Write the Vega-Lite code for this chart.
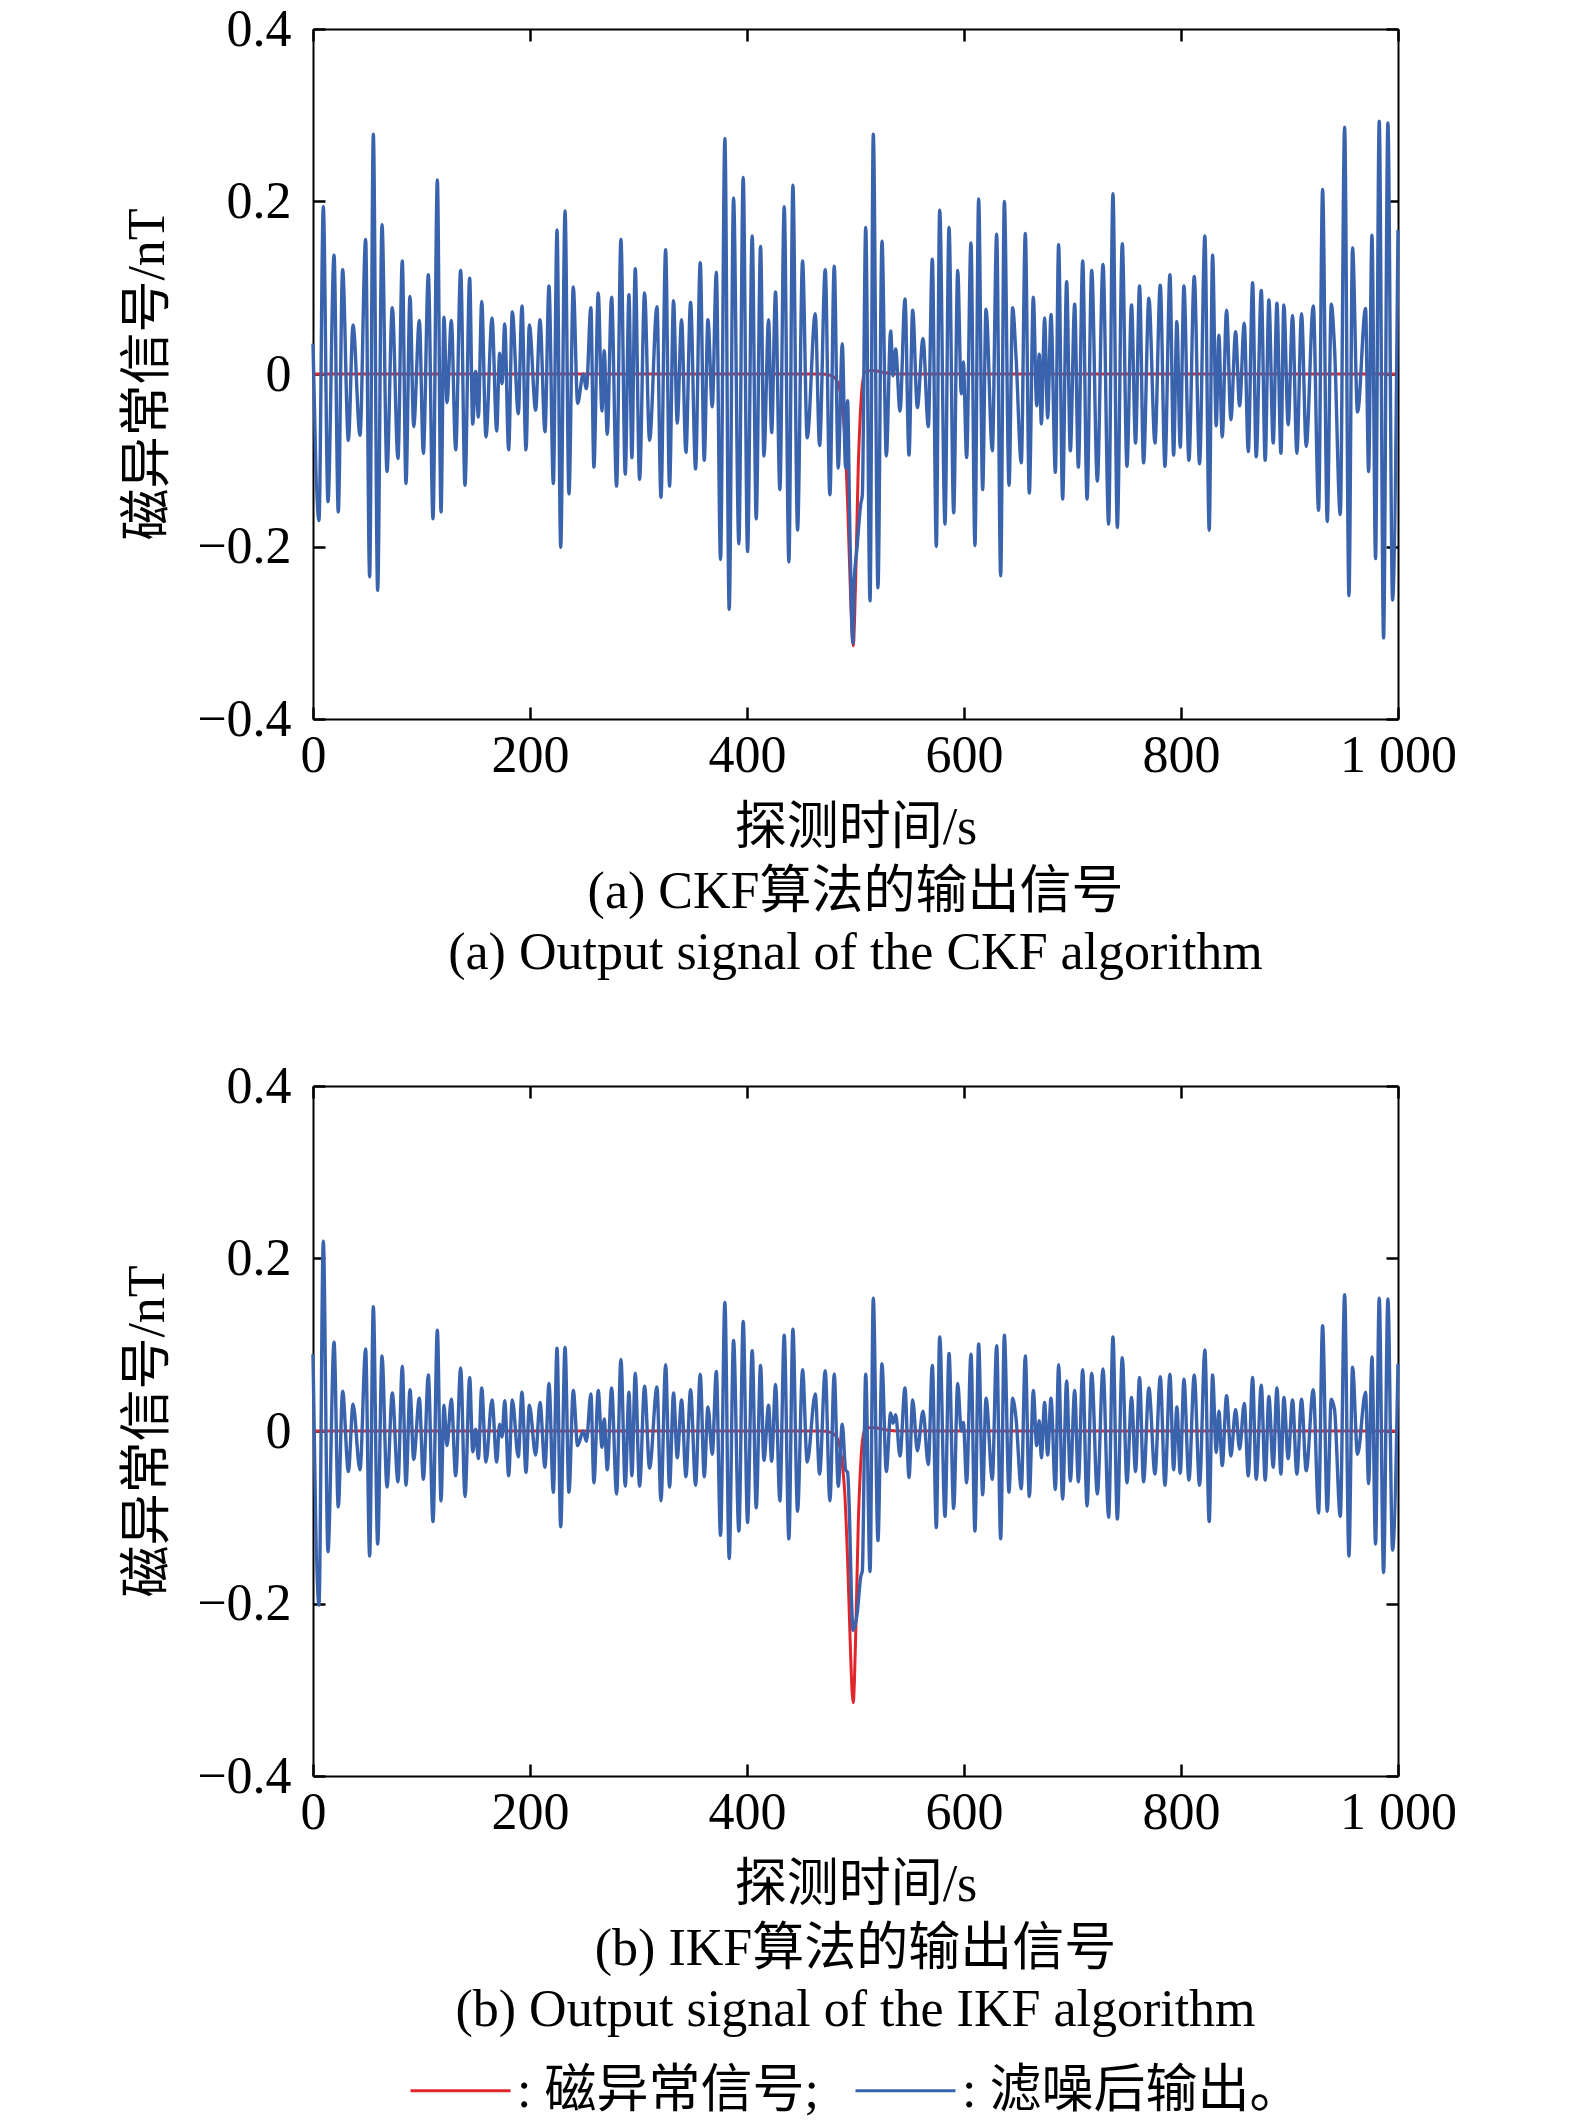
{
  "$schema": "https://vega.github.io/schema/vega-lite/v6.json",
  "background": "white",
  "padding": {"left": 121, "top": 3, "right": 10, "bottom": 5},
  "datasets": {
    "anom": [
      {"t": 0, "a": 0}, {"t": 470, "a": 0}, {"t": 478, "a": -0.002}, {"t": 483, "a": -0.008},
      {"t": 487, "a": -0.03}, {"t": 490, "a": -0.07}, {"t": 493, "a": -0.16}, {"t": 495, "a": -0.24},
      {"t": 497, "a": -0.305}, {"t": 498, "a": -0.315}, {"t": 499, "a": -0.29}, {"t": 500.5, "a": -0.22},
      {"t": 502.5, "a": -0.11}, {"t": 504.5, "a": -0.045}, {"t": 506.5, "a": -0.01}, {"t": 509, "a": 0.003},
      {"t": 515, "a": 0.004}, {"t": 530, "a": 0.001}, {"t": 545, "a": 0}, {"t": 1000, "a": 0}
    ],
    "sig": [
      {"t": 0, "c": 0.035, "k": 0.089}, {"t": 5.5, "c": -0.17, "k": -0.202}, {"t": 9.5, "c": 0.194, "k": 0.22},
      {"t": 13.8, "c": -0.148, "k": -0.14}, {"t": 19.4, "c": 0.138, "k": 0.103}, {"t": 23.3, "c": -0.16, "k": -0.088},
      {"t": 27.3, "c": 0.121, "k": 0.046}, {"t": 32.6, "c": -0.077, "k": -0.047}, {"t": 36.9, "c": 0.057, "k": 0.031},
      {"t": 43.3, "c": -0.071, "k": -0.045}, {"t": 48.5, "c": 0.156, "k": 0.095}, {"t": 52.2, "c": -0.235, "k": -0.145},
      {"t": 55.6, "c": 0.278, "k": 0.144}, {"t": 59.6, "c": -0.251, "k": -0.131}, {"t": 63.6, "c": 0.173, "k": 0.087},
      {"t": 68.2, "c": -0.113, "k": -0.065}, {"t": 73.1, "c": 0.077, "k": 0.044}, {"t": 78.3, "c": -0.098, "k": -0.059},
      {"t": 82.3, "c": 0.131, "k": 0.075}, {"t": 85.7, "c": -0.127, "k": -0.063}, {"t": 89.4, "c": 0.09, "k": 0.048},
      {"t": 92.8, "c": -0.061, "k": -0.033}, {"t": 98.0, "c": 0.062, "k": 0.038}, {"t": 101.7, "c": -0.092, "k": -0.056},
      {"t": 106.3, "c": 0.115, "k": 0.065}, {"t": 110.6, "c": -0.168, "k": -0.105}, {"t": 114.6, "c": 0.225, "k": 0.117},
      {"t": 118.0, "c": -0.16, "k": -0.081}, {"t": 120.7, "c": 0.066, "k": 0.03}, {"t": 123.5, "c": -0.033, "k": -0.017},
      {"t": 127.5, "c": 0.062, "k": 0.037}, {"t": 131.5, "c": -0.088, "k": -0.052}, {"t": 136.1, "c": 0.12, "k": 0.073},
      {"t": 140.1, "c": -0.129, "k": -0.076}, {"t": 144.4, "c": 0.111, "k": 0.062}, {"t": 147.2, "c": -0.058, "k": -0.024},
      {"t": 149.9, "c": 0.003, "k": 0.002}, {"t": 152.4, "c": -0.05, "k": -0.032}, {"t": 155.5, "c": 0.084, "k": 0.05},
      {"t": 159.4, "c": -0.073, "k": -0.036}, {"t": 165.0, "c": 0.065, "k": 0.036}, {"t": 169.3, "c": -0.066, "k": -0.036},
      {"t": 172.0, "c": 0.024, "k": 0.008}, {"t": 174.2, "c": -0.011, "k": -0.007}, {"t": 176.7, "c": 0.058, "k": 0.035},
      {"t": 180.3, "c": -0.088, "k": -0.052}, {"t": 183.7, "c": 0.072, "k": 0.036}, {"t": 189.2, "c": -0.046, "k": -0.03},
      {"t": 192.6, "c": 0.079, "k": 0.045}, {"t": 196.3, "c": -0.088, "k": -0.048}, {"t": 199.4, "c": 0.057, "k": 0.03},
      {"t": 205.2, "c": -0.042, "k": -0.028}, {"t": 209.2, "c": 0.063, "k": 0.033}, {"t": 213.8, "c": -0.067, "k": -0.042},
      {"t": 217.5, "c": 0.102, "k": 0.055}, {"t": 221.5, "c": -0.127, "k": -0.071}, {"t": 224.9, "c": 0.167, "k": 0.096},
      {"t": 228.3, "c": -0.201, "k": -0.111}, {"t": 232.3, "c": 0.189, "k": 0.097}, {"t": 235.9, "c": -0.139, "k": -0.071},
      {"t": 239.9, "c": 0.101, "k": 0.047}, {"t": 243.9, "c": -0.034, "k": -0.017}, {"t": 249.0, "c": 0.0, "k": 0.0},
      {"t": 252.0, "c": -0.017, "k": -0.012}, {"t": 256.1, "c": 0.077, "k": 0.043}, {"t": 258.9, "c": -0.108, "k": -0.06},
      {"t": 262.9, "c": 0.094, "k": 0.047}, {"t": 266.3, "c": -0.043, "k": -0.019}, {"t": 268.4, "c": 0.027, "k": 0.014},
      {"t": 271.2, "c": -0.07, "k": -0.045}, {"t": 275.2, "c": 0.089, "k": 0.05}, {"t": 279.8, "c": -0.13, "k": -0.073},
      {"t": 283.8, "c": 0.156, "k": 0.083}, {"t": 287.8, "c": -0.116, "k": -0.064}, {"t": 291.2, "c": 0.092, "k": 0.045},
      {"t": 293.9, "c": -0.097, "k": -0.052}, {"t": 297.0, "c": 0.122, "k": 0.067}, {"t": 301.0, "c": -0.122, "k": -0.064},
      {"t": 305.6, "c": 0.094, "k": 0.052}, {"t": 310.2, "c": -0.077, "k": -0.043}, {"t": 317.0, "c": 0.078, "k": 0.051},
      {"t": 320.7, "c": -0.143, "k": -0.081}, {"t": 325.0, "c": 0.144, "k": 0.077}, {"t": 328.6, "c": -0.13, "k": -0.065},
      {"t": 332.3, "c": 0.085, "k": 0.044}, {"t": 335.7, "c": -0.057, "k": -0.031}, {"t": 339.7, "c": 0.063, "k": 0.036},
      {"t": 343.7, "c": -0.091, "k": -0.053}, {"t": 348.0, "c": 0.083, "k": 0.048}, {"t": 352.6, "c": -0.11, "k": -0.063},
      {"t": 356.9, "c": 0.129, "k": 0.066}, {"t": 360.6, "c": -0.1, "k": -0.053}, {"t": 364.0, "c": 0.063, "k": 0.028},
      {"t": 368.0, "c": -0.038, "k": -0.027}, {"t": 371.7, "c": 0.118, "k": 0.069}, {"t": 375.6, "c": -0.215, "k": -0.121},
      {"t": 379.6, "c": 0.273, "k": 0.149}, {"t": 383.6, "c": -0.273, "k": -0.148}, {"t": 387.6, "c": 0.204, "k": 0.105},
      {"t": 392.5, "c": -0.197, "k": -0.116}, {"t": 396.5, "c": 0.228, "k": 0.127}, {"t": 400.5, "c": -0.206, "k": -0.106},
      {"t": 404.8, "c": 0.16, "k": 0.093}, {"t": 408.5, "c": -0.168, "k": -0.089}, {"t": 412.5, "c": 0.148, "k": 0.076},
      {"t": 415.6, "c": -0.095, "k": -0.034}, {"t": 419.9, "c": 0.063, "k": 0.03}, {"t": 422.7, "c": -0.068, "k": -0.035},
      {"t": 426.3, "c": 0.095, "k": 0.054}, {"t": 430.3, "c": -0.134, "k": -0.081}, {"t": 434.3, "c": 0.194, "k": 0.111},
      {"t": 438.6, "c": -0.218, "k": -0.125}, {"t": 442.3, "c": 0.219, "k": 0.118}, {"t": 446.6, "c": -0.181, "k": -0.093},
      {"t": 451.2, "c": 0.131, "k": 0.071}, {"t": 455.5, "c": -0.074, "k": -0.036}, {"t": 462.9, "c": 0.07, "k": 0.043},
      {"t": 466.9, "c": -0.083, "k": -0.05}, {"t": 472.1, "c": 0.121, "k": 0.07}, {"t": 476.4, "c": -0.14, "k": -0.081},
      {"t": 480.4, "c": 0.125, "k": 0.066}, {"t": 484.1, "c": -0.109, "k": -0.064}, {"t": 487.8, "c": 0.035, "k": 0.008},
      {"t": 490.9, "c": -0.109, "k": -0.045}, {"t": 492.7, "c": -0.031, "k": -0.048}, {"t": 494.5, "c": -0.16, "k": -0.1},
      {"t": 496.2, "c": -0.27, "k": -0.19}, {"t": 497.7, "c": -0.312, "k": -0.231}, {"t": 498.6, "c": -0.246, "k": -0.229},
      {"t": 501.5, "c": -0.2, "k": -0.212}, {"t": 504.8, "c": -0.151, "k": -0.169}, {"t": 506.3, "c": -0.14, "k": -0.162},
      {"t": 509.4, "c": 0.17, "k": 0.066}, {"t": 513.4, "c": -0.263, "k": -0.163}, {"t": 516.4, "c": 0.278, "k": 0.154},
      {"t": 520.7, "c": -0.248, "k": -0.127}, {"t": 524.4, "c": 0.154, "k": 0.078}, {"t": 528.4, "c": -0.095, "k": -0.047},
      {"t": 532.4, "c": 0.05, "k": 0.021}, {"t": 534.6, "c": -0.002, "k": 0.009}, {"t": 537.0, "c": 0.029, "k": 0.019},
      {"t": 541.0, "c": -0.043, "k": -0.029}, {"t": 545.6, "c": 0.087, "k": 0.05}, {"t": 549.3, "c": -0.094, "k": -0.054},
      {"t": 552.7, "c": 0.074, "k": 0.036}, {"t": 557.0, "c": -0.039, "k": -0.023}, {"t": 562.2, "c": 0.041, "k": 0.023},
      {"t": 567.1, "c": -0.061, "k": -0.039}, {"t": 570.8, "c": 0.133, "k": 0.076}, {"t": 574.5, "c": -0.2, "k": -0.112},
      {"t": 577.6, "c": 0.19, "k": 0.109}, {"t": 582.5, "c": -0.174, "k": -0.099}, {"t": 586.2, "c": 0.17, "k": 0.09},
      {"t": 590.5, "c": -0.161, "k": -0.09}, {"t": 594.2, "c": 0.12, "k": 0.055}, {"t": 597.5, "c": -0.023, "k": 0.0},
      {"t": 599.4, "c": 0.014, "k": 0.01}, {"t": 602.4, "c": -0.097, "k": -0.06}, {"t": 606.4, "c": 0.152, "k": 0.089},
      {"t": 610.1, "c": -0.199, "k": -0.116}, {"t": 613.5, "c": 0.203, "k": 0.101}, {"t": 617.2, "c": -0.134, "k": -0.074},
      {"t": 620.3, "c": 0.075, "k": 0.038}, {"t": 626.1, "c": -0.089, "k": -0.056}, {"t": 630.1, "c": 0.162, "k": 0.099},
      {"t": 633.8, "c": -0.234, "k": -0.125}, {"t": 637.2, "c": 0.2, "k": 0.111}, {"t": 641.5, "c": -0.129, "k": -0.071},
      {"t": 644.8, "c": 0.077, "k": 0.038}, {"t": 648.0, "c": 0.019, "k": 0.014}, {"t": 652.8, "c": -0.103, "k": -0.067},
      {"t": 656.5, "c": 0.163, "k": 0.087}, {"t": 660.2, "c": -0.138, "k": -0.076}, {"t": 663.9, "c": 0.089, "k": 0.047},
      {"t": 667.0, "c": -0.037, "k": -0.017}, {"t": 669.4, "c": 0.023, "k": 0.012}, {"t": 671.3, "c": -0.058, "k": -0.031},
      {"t": 674.3, "c": 0.065, "k": 0.033}, {"t": 677.1, "c": -0.051, "k": -0.028}, {"t": 680.2, "c": 0.069, "k": 0.038},
      {"t": 684.2, "c": -0.114, "k": -0.068}, {"t": 687.2, "c": 0.15, "k": 0.077}, {"t": 690.9, "c": -0.145, "k": -0.079},
      {"t": 694.6, "c": 0.107, "k": 0.058}, {"t": 698.0, "c": -0.089, "k": -0.058}, {"t": 702.0, "c": 0.081, "k": 0.047},
      {"t": 705.4, "c": -0.108, "k": -0.059}, {"t": 709.4, "c": 0.131, "k": 0.071}, {"t": 713.4, "c": -0.145, "k": -0.087},
      {"t": 717.7, "c": 0.12, "k": 0.067}, {"t": 722.9, "c": -0.124, "k": -0.073}, {"t": 728.1, "c": 0.127, "k": 0.072},
      {"t": 733.3, "c": -0.174, "k": -0.1}, {"t": 737.3, "c": 0.209, "k": 0.109}, {"t": 741.3, "c": -0.178, "k": -0.102},
      {"t": 745.9, "c": 0.151, "k": 0.085}, {"t": 750.2, "c": -0.107, "k": -0.06}, {"t": 754.4, "c": 0.08, "k": 0.039},
      {"t": 758.1, "c": -0.08, "k": -0.047}, {"t": 761.8, "c": 0.102, "k": 0.062}, {"t": 765.5, "c": -0.103, "k": -0.059},
      {"t": 770.4, "c": 0.088, "k": 0.05}, {"t": 776.0, "c": -0.08, "k": -0.05}, {"t": 780.9, "c": 0.103, "k": 0.063},
      {"t": 785.2, "c": -0.107, "k": -0.063}, {"t": 789.8, "c": 0.115, "k": 0.066}, {"t": 793.2, "c": -0.094, "k": -0.045},
      {"t": 796.2, "c": 0.061, "k": 0.028}, {"t": 799.3, "c": -0.085, "k": -0.049}, {"t": 802.7, "c": 0.102, "k": 0.06},
      {"t": 807.3, "c": -0.1, "k": -0.057}, {"t": 812.2, "c": 0.113, "k": 0.065}, {"t": 817.1, "c": -0.104, "k": -0.063},
      {"t": 822.0, "c": 0.16, "k": 0.094}, {"t": 826.0, "c": -0.181, "k": -0.105}, {"t": 829.1, "c": 0.138, "k": 0.065},
      {"t": 832.5, "c": -0.06, "k": -0.025}, {"t": 834.9, "c": 0.045, "k": 0.023}, {"t": 838.0, "c": -0.073, "k": -0.04},
      {"t": 842.0, "c": 0.074, "k": 0.041}, {"t": 846.0, "c": -0.053, "k": -0.029}, {"t": 850.3, "c": 0.049, "k": 0.025},
      {"t": 854.0, "c": -0.037, "k": -0.021}, {"t": 858.3, "c": 0.059, "k": 0.032}, {"t": 862.0, "c": -0.09, "k": -0.052},
      {"t": 866.0, "c": 0.106, "k": 0.062}, {"t": 869.3, "c": -0.096, "k": -0.056}, {"t": 874.0, "c": 0.097, "k": 0.053},
      {"t": 877.6, "c": -0.1, "k": -0.057}, {"t": 881.0, "c": 0.086, "k": 0.04}, {"t": 885.0, "c": -0.08, "k": -0.042},
      {"t": 888.4, "c": 0.082, "k": 0.05}, {"t": 892.1, "c": -0.092, "k": -0.05}, {"t": 894.8, "c": 0.08, "k": 0.039},
      {"t": 898.8, "c": -0.059, "k": -0.032}, {"t": 902.8, "c": 0.068, "k": 0.036}, {"t": 906.8, "c": -0.092, "k": -0.05},
      {"t": 911.1, "c": 0.07, "k": 0.037}, {"t": 915.4, "c": -0.084, "k": -0.046}, {"t": 921.9, "c": 0.079, "k": 0.048},
      {"t": 926.8, "c": -0.158, "k": -0.095}, {"t": 930.5, "c": 0.214, "k": 0.122}, {"t": 934.8, "c": -0.171, "k": -0.093},
      {"t": 938.5, "c": 0.081, "k": 0.037}, {"t": 941.5, "c": 0.03, "k": 0.025}, {"t": 946.8, "c": -0.163, "k": -0.099},
      {"t": 950.8, "c": 0.286, "k": 0.158}, {"t": 954.8, "c": -0.257, "k": -0.145}, {"t": 958.1, "c": 0.146, "k": 0.074},
      {"t": 962.7, "c": -0.044, "k": -0.027}, {"t": 970.1, "c": 0.076, "k": 0.045}, {"t": 972.9, "c": -0.113, "k": -0.061},
      {"t": 976.0, "c": 0.161, "k": 0.086}, {"t": 979.3, "c": -0.214, "k": -0.131}, {"t": 982.7, "c": 0.293, "k": 0.154},
      {"t": 986.7, "c": -0.306, "k": -0.164}, {"t": 990.7, "c": 0.291, "k": 0.153}, {"t": 995.0, "c": -0.262, "k": -0.138},
      {"t": 1000, "c": 0.167, "k": 0.078}
    ]
  },
  "spacing": 81,
  "resolve": {"scale": {"color": "shared"}},
  "vconcat": [
    {
      "width": 1085,
      "height": 690,
      "title": {"text": ["(a) CKF算法的输出信号", "(a) Output signal of the CKF algorithm"], "orient": "bottom", "offset": 14},
      "layer": [
        {
          "data": {"name": "anom"},
          "mark": {"type": "line", "interpolate": "monotone", "strokeWidth": 3},
          "encoding": {
            "x": {"field": "t", "type": "quantitative", "scale": {"domain": [0, 1000], "nice": false},
                  "axis": {"orient": "bottom", "title": "探测时间/s", "values": [0, 200, 400, 600, 800, 1000], "format": "d",
                           "labelExpr": "datum.value === 1000 ? '1 000' : datum.label"}},
            "y": {"field": "a", "type": "quantitative", "scale": {"domain": [-0.4, 0.4], "nice": false},
                  "axis": {"orient": "left", "title": "磁异常信号/nT", "values": [-0.4, -0.2, 0, 0.2, 0.4], "format": "~g"}},
            "color": {"datum": ": 磁异常信号;", "type": "nominal"}
          }
        },
        {
          "data": {"name": "sig"},
          "mark": {"type": "line", "interpolate": "monotone", "strokeWidth": 3.4},
          "encoding": {
            "x": {"field": "t", "type": "quantitative", "scale": {"domain": [0, 1000], "nice": false},
                  "axis": {"orient": "top", "title": null, "labels": false, "values": [0, 200, 400, 600, 800, 1000]}},
            "y": {"field": "c", "type": "quantitative", "scale": {"domain": [-0.4, 0.4], "nice": false},
                  "axis": {"orient": "right", "title": null, "labels": false, "values": [-0.4, -0.2, 0, 0.2, 0.4]}},
            "color": {"datum": ": 滤噪后输出。", "type": "nominal"}
          }
        }
      ]
    },
    {
      "width": 1085,
      "height": 690,
      "title": {"text": ["(b) IKF算法的输出信号", "(b) Output signal of the IKF algorithm"], "orient": "bottom", "offset": 14},
      "layer": [
        {
          "data": {"name": "anom"},
          "mark": {"type": "line", "interpolate": "monotone", "strokeWidth": 3},
          "encoding": {
            "x": {"field": "t", "type": "quantitative", "scale": {"domain": [0, 1000], "nice": false},
                  "axis": {"orient": "bottom", "title": "探测时间/s", "values": [0, 200, 400, 600, 800, 1000], "format": "d",
                           "labelExpr": "datum.value === 1000 ? '1 000' : datum.label"}},
            "y": {"field": "a", "type": "quantitative", "scale": {"domain": [-0.4, 0.4], "nice": false},
                  "axis": {"orient": "left", "title": "磁异常信号/nT", "values": [-0.4, -0.2, 0, 0.2, 0.4], "format": "~g"}},
            "color": {"datum": ": 磁异常信号;", "type": "nominal"}
          }
        },
        {
          "data": {"name": "sig"},
          "mark": {"type": "line", "interpolate": "monotone", "strokeWidth": 3.4},
          "encoding": {
            "x": {"field": "t", "type": "quantitative", "scale": {"domain": [0, 1000], "nice": false},
                  "axis": {"orient": "top", "title": null, "labels": false, "values": [0, 200, 400, 600, 800, 1000]}},
            "y": {"field": "k", "type": "quantitative", "scale": {"domain": [-0.4, 0.4], "nice": false},
                  "axis": {"orient": "right", "title": null, "labels": false, "values": [-0.4, -0.2, 0, 0.2, 0.4]}},
            "color": {"datum": ": 滤噪后输出。", "type": "nominal",
                      "scale": {"domain": [": 磁异常信号;", ": 滤噪后输出。"], "range": ["#e0262b", "#3a63ad"]},
                      "legend": {"orient": "none", "legendX": 96, "legendY": 2010, "direction": "horizontal", "title": null,
                                 "symbolType": "stroke", "symbolSize": 10000, "symbolStrokeWidth": 3, "labelFontSize": 52,
                                 "labelOffset": 5, "columnPadding": 30, "labelLimit": 0}}
          }
        }
      ]
    }
  ],
  "config": {
    "font": "'Liberation Serif', 'Noto Sans CJK SC', serif",
    "view": {"stroke": null},
    "axis": {
      "grid": false,
      "domainColor": "black",
      "domainWidth": 2,
      "tickColor": "black",
      "tickWidth": 2.5,
      "tickSize": -12,
      "labelFontSize": 52,
      "labelColor": "black",
      "labelFlush": false,
      "labelOverlap": false,
      "titleFontSize": 52,
      "titleFontWeight": "normal",
      "titleColor": "black"
    },
    "axisX": {"labelPadding": 23, "titlePadding": 21},
    "axisY": {"labelPadding": 34, "titlePadding": 22},
    "title": {"fontSize": 52, "fontWeight": "normal", "color": "black", "lineHeight": 61},
    "legend": {"labelColor": "black", "labelFont": "'Liberation Serif', 'Noto Sans CJK SC', serif"}
  }
}
